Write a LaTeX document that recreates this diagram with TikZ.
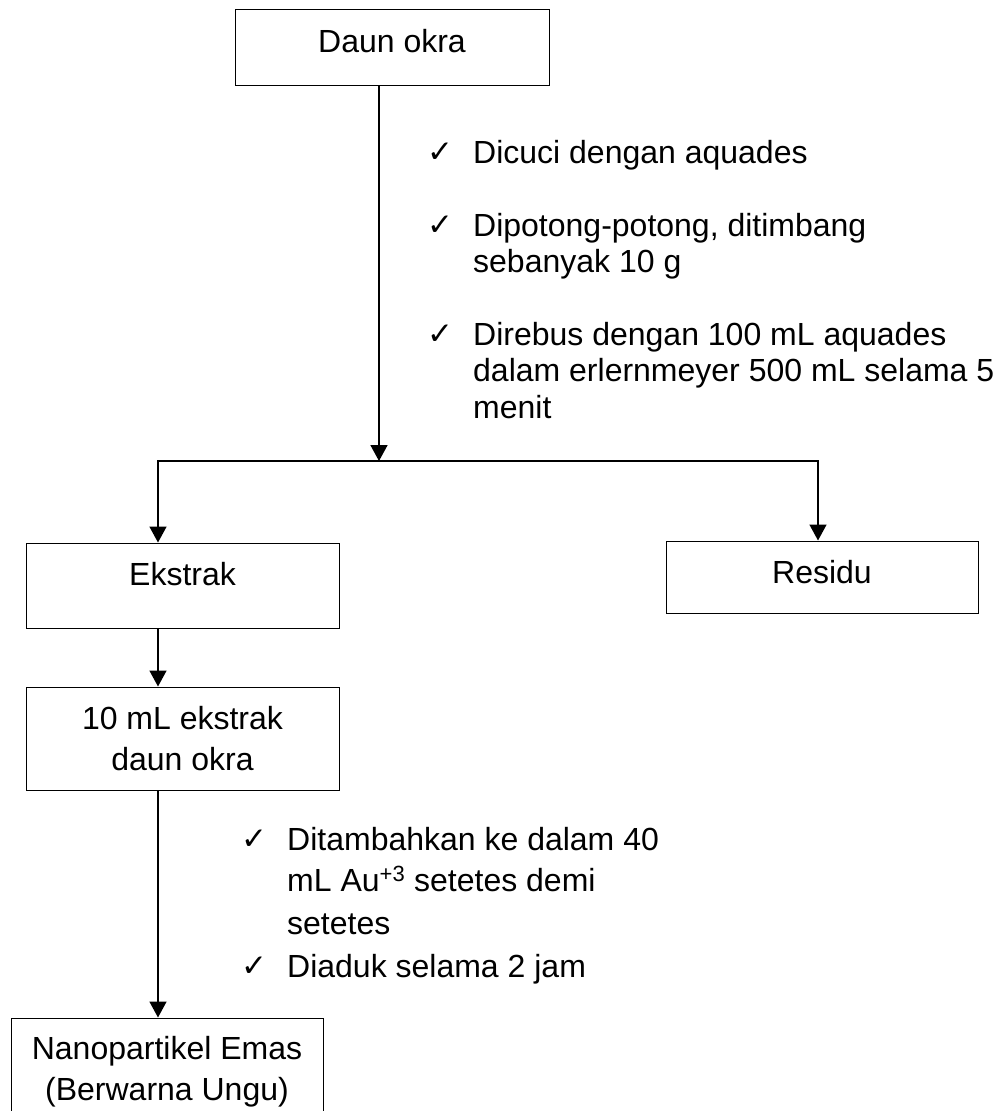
\documentclass[tikz,border=0pt]{standalone}
\usepackage{fontspec}
\setmainfont{Liberation Sans}
\newfontfamily\symfont{DejaVu Sans}
\usetikzlibrary{arrows.meta}
\begin{document}
\begin{tikzpicture}[x=1pt,y=-1pt,
  box/.style={draw=black, line width=1pt, rectangle, inner sep=0pt},
  lbl/.style={inner sep=0pt, anchor=base, font=\fontsize{32}{37}\selectfont},
  itemtext/.style={inner sep=0pt, anchor=base west, font=\fontsize{32}{37}\selectfont},
  tick/.style={inner sep=0pt, anchor=base west, font=\symfont\fontsize{31}{31}\selectfont},
  flow/.style={line width=1.6pt, -{Triangle[length=16pt,width=17pt]}},
  link/.style={line width=1.6pt, line cap=rect}]
\useasboundingbox (0,0) rectangle (998,1111);
\clip (0,0) rectangle (998,1111);

% boxes
\node[box, minimum width=314pt, minimum height=76pt] (daun) at (392,47) {};
\node[lbl] (daunT) at (392,52) {Daun okra};

\node[box, minimum width=313pt, minimum height=85pt] (ekstrak) at (182.5,585.5) {};
\node[lbl] (ekstrakT) at (182.5,585) {Ekstrak};

\node[box, minimum width=312pt, minimum height=72pt] (residu) at (822,577) {};
\node[lbl] (residuT) at (822,583) {Residu};

\node[box, minimum width=313pt, minimum height=103pt] (ml) at (182.5,738.5) {};
\node[lbl] (mlA) at (182.5,729) {10 mL ekstrak};
\node[lbl] (mlB) at (182.5,770) {daun okra};

\node[box, minimum width=312pt, minimum height=122pt] (nano) at (167,1079) {};
\node[lbl] (nanoA) at (167,1059) {Nanopartikel Emas};
\node[lbl] (nanoB) at (167,1100) {(Berwarna Ungu)};

% connectors
\coordinate (split) at (379,461);
\coordinate (jl) at (158,461);
\coordinate (jr) at (818,461);
\draw[flow] (daun.south -| split) -- (split);
\draw[link] (jl) -- (jr);
\draw[flow] (jl) -- (ekstrak.north -| jl);
\draw[flow] (jr) -- (residu.north -| jr);
\draw[flow] (ekstrak.south -| jl) -- (ml.north -| jl);
\draw[flow] (ml.south -| jl) -- (nano.north -| jl);

% first treatment steps
\node[tick] (t1) at (427,162) {✓};
\node[itemtext] (s1) at (473,163) {Dicuci dengan aquades};
\node[tick] (t2) at (427,235) {✓};
\node[itemtext] (s2a) at (473,236) {Dipotong-potong, ditimbang};
\node[itemtext] (s2b) at (473,272) {sebanyak 10 g};
\node[tick] (t3) at (427,344) {✓};
\node[itemtext] (s3a) at (473,345) {Direbus dengan 100 mL aquades};
\node[itemtext] (s3b) at (473,381) {dalam erlernmeyer 500 mL selama 5};
\node[itemtext] (s3c) at (473,418) {menit};

% second treatment steps
\node[tick] (t4) at (241,849) {✓};
\node[itemtext] (r1a) at (287,850) {Ditambahkan ke dalam 40};
\node[itemtext] (r1b) at (287,891) {mL Au\textsuperscript{\fontsize{22}{22}\selectfont +3} setetes demi};
\node[itemtext] (r1c) at (287,934) {setetes};
\node[tick] (t5) at (241,976) {✓};
\node[itemtext] (r2) at (287,977) {Diaduk selama 2 jam};
\end{tikzpicture}
\end{document}
